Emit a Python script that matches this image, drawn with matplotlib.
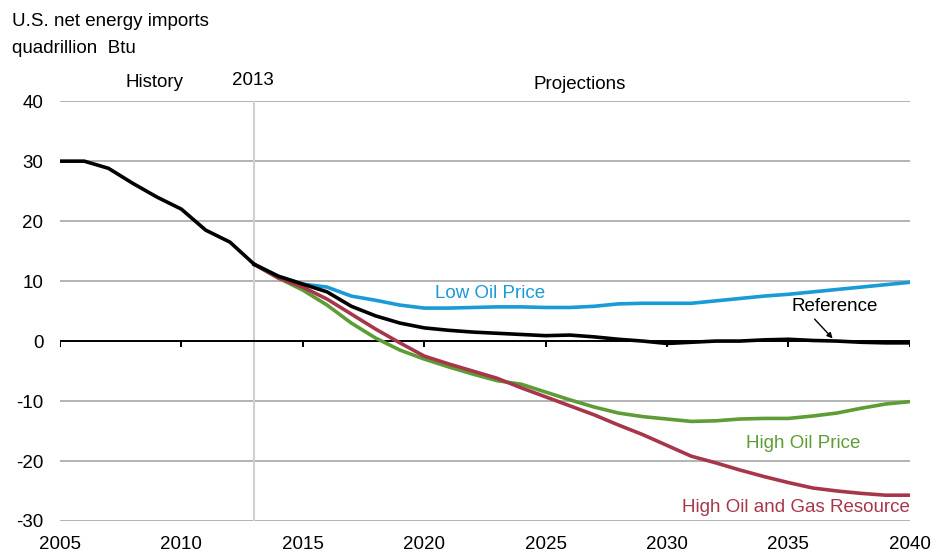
import matplotlib
matplotlib.use("Agg")
import matplotlib.pyplot as plt

plt.rcParams["font.family"] = ["Liberation Sans", "DejaVu Sans"]
plt.rcParams["axes.unicode_minus"] = False

# ---- Data (quadrillion Btu) ----
hist_years = list(range(2005, 2014))
hist_values = [30.0, 30.0, 28.8, 26.3, 24.0, 22.0, 18.5, 16.5, 12.8]

proj_years = list(range(2013, 2041))
reference = [12.8, 10.8, 9.5, 8.2, 5.8, 4.2, 3.0, 2.2, 1.8, 1.5, 1.3, 1.1, 0.9, 1.0,
             0.7, 0.3, 0.0, -0.4, -0.2, 0.0, 0.0, 0.2, 0.3, 0.1, 0.0, -0.2, -0.3, -0.3]
low_oil = [12.8, 10.8, 9.5, 9.0, 7.5, 6.8, 6.0, 5.5, 5.5, 5.6, 5.7, 5.7, 5.6, 5.6,
           5.8, 6.2, 6.3, 6.3, 6.3, 6.7, 7.1, 7.5, 7.8, 8.2, 8.6, 9.0, 9.4, 9.8]
high_oil = [12.8, 10.5, 8.5, 6.0, 3.0, 0.5, -1.5, -3.0, -4.3, -5.5, -6.6, -7.2, -8.5, -9.8,
            -11.0, -12.0, -12.6, -13.0, -13.4, -13.3, -13.0, -12.9, -12.9, -12.5, -12.0,
            -11.2, -10.5, -10.1]
high_resource = [12.8, 10.5, 9.0, 7.0, 4.5, 2.0, -0.3, -2.5, -3.8, -5.0, -6.2, -7.8, -9.3,
                 -10.8, -12.3, -14.0, -15.6, -17.4, -19.2, -20.3, -21.5, -22.6, -23.6,
                 -24.5, -25.0, -25.4, -25.7, -25.7]

x_ticks = [2005, 2010, 2015, 2020, 2025, 2030, 2035, 2040]
y_ticks = [-30, -20, -10, 0, 10, 20, 30, 40]
split_year = 2013

FS = 13.5

fig = plt.figure(figsize=(9.37, 5.56), dpi=100)
ax = fig.add_axes([0.064, 0.063, 0.907, 0.755])

# gridlines
for y in y_ticks:
    if y != 0:
        ax.axhline(y, color="#a6a6a6", linewidth=1.2, zorder=1)
ax.axhline(0, color="black", linewidth=1.4, zorder=2)
ax.vlines(x_ticks, -1.0, 0, color="black", linewidth=1.4, zorder=2)
ax.axvline(split_year, color="#d0d0d0", linewidth=1.5, zorder=1)

ax.plot(proj_years, low_oil, color="#1a9ad6", linewidth=2.6, zorder=3)
ax.plot(proj_years, high_oil, color="#5e9c35", linewidth=2.6, zorder=3)
ax.plot(proj_years, high_resource, color="#a8364a", linewidth=2.6, zorder=4)
ax.plot(proj_years, reference, color="black", linewidth=2.6, zorder=5)
ax.plot(hist_years, hist_values, color="black", linewidth=2.6, zorder=5)

ax.set_xlim(2005, 2040)
ax.set_ylim(-30, 40)
for s in ax.spines.values():
    s.set_visible(False)
ax.set_xticks(x_ticks)
ax.set_yticks(y_ticks)
ax.tick_params(length=0, labelsize=FS)
ax.tick_params(axis="y", pad=12)
ax.tick_params(axis="x", pad=11)

# series labels
ax.text(2022.7, 8.0, "Low Oil Price", color="#1a9ad6", fontsize=FS, ha="center", va="center")
ax.text(2036.9, 5.8, "Reference", color="black", fontsize=FS, ha="center", va="center")
ax.annotate("", xy=(2036.9, 0.1), xytext=(2036.0, 4.0),
            arrowprops=dict(arrowstyle="-|>", color="black", lw=1.0, mutation_scale=8))
ax.text(2035.6, -17.0, "High Oil Price", color="#5e9c35", fontsize=FS, ha="center", va="center")
ax.text(2040, -27.8, "High Oil and Gas Resource", color="#a8364a", fontsize=FS,
        ha="right", va="center")

# header texts
fig.text(0.013, 0.961, "U.S. net energy imports", fontsize=FS, va="center")
fig.text(0.013, 0.913, "quadrillion  Btu", fontsize=FS, va="center")
ax.text(2008.9, 43.2, "History", fontsize=FS, ha="center", va="center")
ax.text(2012.95, 43.5, "2013", fontsize=FS, ha="center", va="center")
ax.text(2026.4, 42.8, "Projections", fontsize=FS, ha="center", va="center")

fig.savefig("out.png", dpi=100)
